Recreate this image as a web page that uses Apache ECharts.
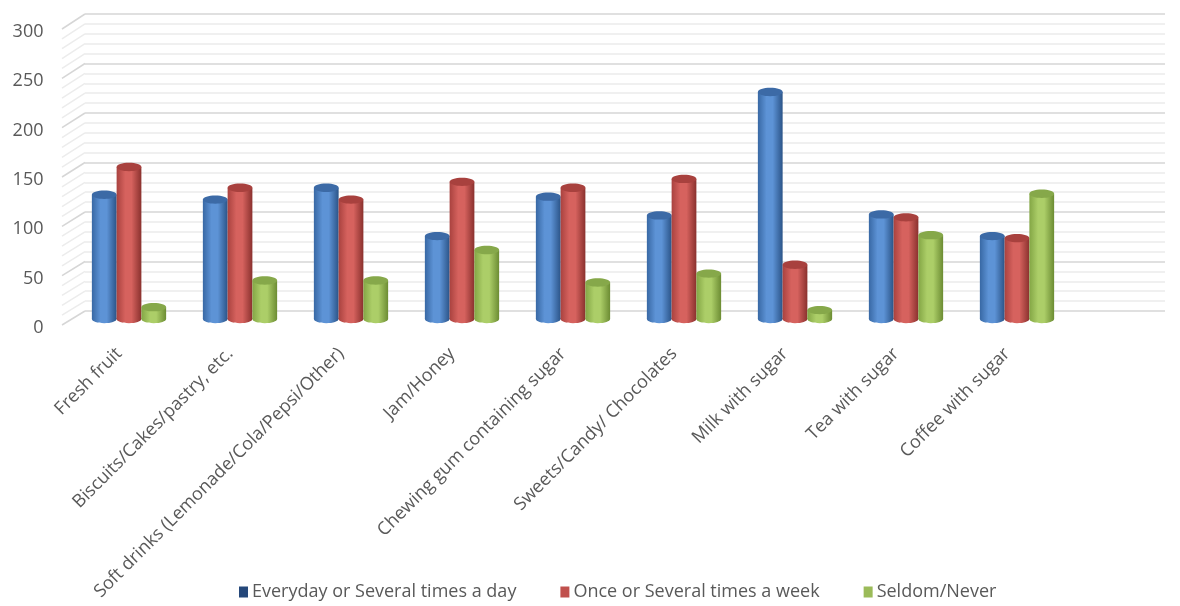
<!DOCTYPE html>
<html>
<head>
<meta charset="utf-8">
<script src="https://cdn.jsdelivr.net/npm/echarts@6/dist/echarts.min.js"></script>
<style>
  html, body { margin: 0; padding: 0; background: #fff; }
  #main { width: 1180px; height: 606px; }
</style>
</head>
<body>
<div id="main"></div>
<script>
const categories = ['Fresh fruit', 'Biscuits/Cakes/pastry, etc.', 'Soft drinks (Lemonade/Cola/Pepsi/Other)',
  'Jam/Honey', 'Chewing gum containing sugar', 'Sweets/Candy/ Chocolates', 'Milk with sugar',
  'Tea with sugar', 'Coffee with sugar'];
const seriesNames = ['Everyday or Several times a day', 'Once or Several times a week', 'Seldom/Never'];
const everyday = [126, 121, 133, 84, 124, 105, 230, 106, 84];
const weekly = [154, 133, 121, 139, 133, 142, 55, 103, 82];
const seldom = [12, 39, 39, 70, 37, 46, 9, 85, 127];
const yTicks = [0, 50, 100, 150, 200, 250, 300];

const FONT = '"Open Sans", "Noto Sans", sans-serif';
const TEXT = '#595959';

// cylinder shades: [edge-left, highlight, edge-right, top]
const shades = [
  ['#3868a4', '#5d93d6', '#2b5488', '#3c6aa6'],
  ['#a9423f', '#d6625e', '#8a312e', '#a8413e'],
  ['#83a645', '#acce68', '#6c8c33', '#86a84a']
];

const chart = echarts.init(document.getElementById('main'));

function cylinder(idx, values) {
  const s = shades[idx];
  return {
    name: seriesNames[idx],
    type: 'custom',
    xAxisIndex: 0,
    yAxisIndex: 0,
    itemStyle: { color: s[1] },
    data: values.map((v, i) => [i, v]),
    encode: { x: 0, y: 1 },
    renderItem: function (params, api) {
      const base = api.coord([api.value(0), 0]);
      const top = api.coord([api.value(0), api.value(1)]);
      const band = api.size([1, 0])[0];
      const w = band * 0.223;
      const x0 = base[0] - 1.5 * w + idx * w;
      const ry = w * 0.17;
      const grad = new echarts.graphic.LinearGradient(0, 0, 1, 0, [
        { offset: 0, color: s[0] },
        { offset: 0.35, color: s[1] },
        { offset: 0.6, color: s[1] },
        { offset: 1, color: s[2] }
      ]);
      return {
        type: 'group',
        children: [
          { type: 'ellipse', shape: { cx: x0 + w / 2, cy: base[1], rx: w / 2, ry: ry }, style: { fill: grad } },
          { type: 'rect', shape: { x: x0, y: top[1], width: w, height: base[1] - top[1] }, style: { fill: grad } },
          { type: 'ellipse', shape: { cx: x0 + w / 2, cy: top[1], rx: w / 2, ry: ry }, style: { fill: s[3] } }
        ]
      };
    }
  };
}

const option = {
  backgroundColor: '#fff',
  animation: false,
  legend: {
    bottom: 0,
    left: 234,
    itemGap: 44,
    itemWidth: 9,
    itemHeight: 11,
    icon: 'rect',
    textStyle: { fontFamily: FONT, fontSize: 18, color: TEXT, padding: [0, 0, 0, -1] },
    data: [
      { name: seriesNames[0], itemStyle: { color: '#25487a' } },
      { name: seriesNames[1], itemStyle: { color: '#c0504d' } },
      { name: seriesNames[2], itemStyle: { color: '#9bbb59' } }
    ]
  },
  grid: [
    // middle of the floor: the cylinders stand here
    { left: 73.5, right: 107.5, top: 23, height: 296 },
    // back wall
    { left: 85, right: 15, top: 14, height: 297 },
    // front plane: value labels
    { left: 73.5, right: 107.5, top: 32, height: 296 }
  ],
  xAxis: [
    {
      type: 'category', gridIndex: 0, data: categories,
      axisLine: { show: false }, axisTick: { show: false },
      axisLabel: { rotate: 45, interval: 0, margin: 22, padding: [0, 14, 0, 0], fontFamily: FONT, fontSize: 18, color: TEXT }
    },
    { type: 'value', gridIndex: 1, show: false, min: 0, max: 1 },
    { type: 'value', gridIndex: 2, show: false, min: 0, max: 1 }
  ],
  yAxis: [
    { type: 'value', gridIndex: 0, min: 0, max: 300, show: false },
    {
      type: 'value', gridIndex: 1, min: 0, max: 300, interval: 50,
      axisLine: { show: false }, axisTick: { show: false }, axisLabel: { show: false },
      splitLine: { lineStyle: { color: '#d6d6d6', width: 1.5 } },
      minorTick: { show: false, splitNumber: 5 },
      minorSplitLine: { show: true, lineStyle: { color: '#ececec', width: 1.5 } }
    },
    {
      type: 'value', gridIndex: 2, min: yTicks[0], max: yTicks[yTicks.length - 1], interval: 50,
      axisLine: { show: false }, axisTick: { show: false }, splitLine: { show: false },
      axisLabel: { margin: 30, fontFamily: FONT, fontSize: 18, color: TEXT }
    }
  ],
  series: [cylinder(0, everyday), cylinder(1, weekly), cylinder(2, seldom)]
};

chart.setOption(option);

// side wall: join the front plane to the back wall for every grid line
const wall = [];
for (let v = 0; v <= 300; v += 10) {
  const fy = chart.convertToPixel({ yAxisIndex: 2 }, v) - 3;
  const by = chart.convertToPixel({ yAxisIndex: 1 }, v);
  wall.push({
    type: 'line', z: -1, silent: true,
    shape: { x1: 62, y1: fy, x2: 85, y2: by },
    style: { stroke: v % 50 === 0 ? '#d6d6d6' : '#ececec', lineWidth: 1.5 }
  });
}
chart.setOption({ graphic: wall });
</script>
</body>
</html>
